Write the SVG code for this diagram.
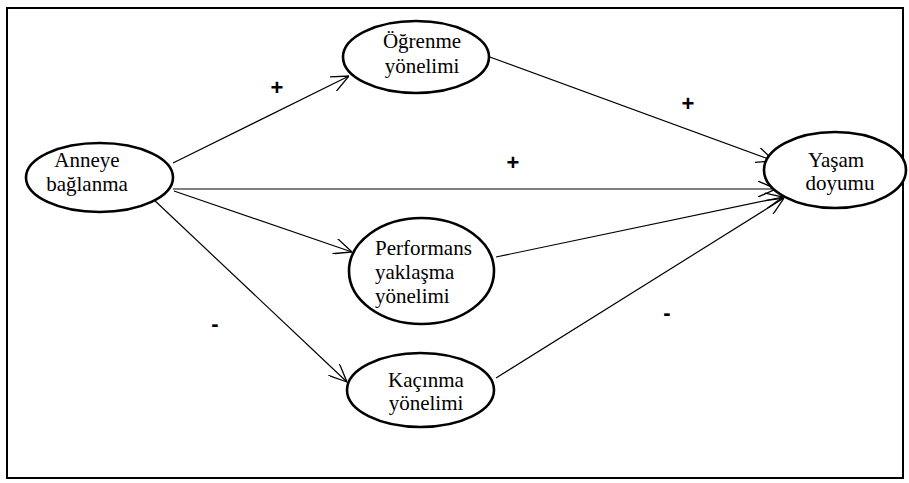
<svg xmlns="http://www.w3.org/2000/svg" width="909" height="483" viewBox="0 0 909 483">
<style>
.node ellipse { fill: #fff; stroke: #000; stroke-width: 2.6; }
.edge { stroke: #000; stroke-width: 1.2; fill: none; marker-end: url(#arr); }
</style>
<defs>
<marker id="arr" viewBox="0 0 18 16" refX="18" refY="8" markerWidth="18" markerHeight="16" markerUnits="userSpaceOnUse" orient="auto">
<path d="M0,0 L18,8 L0,16" fill="none" stroke="#000" stroke-width="1.3"/>
</marker>
</defs>
<rect x="7" y="8" width="896" height="470" fill="#fff" stroke="#000" stroke-width="2"/>
<g id="connectors">
<line class="edge" x1="173" y1="163" x2="349" y2="76"/>
<line class="edge" x1="487" y1="56" x2="774" y2="161"/>
<line class="edge" x1="173" y1="189" x2="776" y2="189"/>
<line class="edge" x1="174" y1="191" x2="352" y2="252"/>
<line class="edge" x1="496" y1="257" x2="783" y2="197"/>
<line class="edge" x1="152" y1="198" x2="347" y2="382"/>
<line class="edge" x1="496" y1="378" x2="784" y2="198"/>
</g>
<g id="labels" font-family="'Liberation Sans', Arial, sans-serif" font-size="22" font-weight="bold" text-anchor="middle" fill="#000">
<text x="277" y="95">+</text>
<text x="688" y="111">+</text>
<text x="513" y="170">+</text>
<text x="215" y="331">-</text>
<text x="667" y="320">-</text>
</g>
<g font-family="'Liberation Serif', 'Times New Roman', serif" font-size="21" fill="#000">
<g id="anneye" class="node">
<ellipse cx="99.5" cy="177.5" rx="73.5" ry="34.5"/>
<text x="87" y="167" text-anchor="middle">Anneye</text>
<text x="87" y="191" text-anchor="middle">bağlanma</text>
</g>
<g id="ogrenme" class="node">
<ellipse cx="416" cy="57" rx="73" ry="36"/>
<text x="422" y="48" text-anchor="middle">Öğrenme</text>
<text x="422" y="73" text-anchor="middle">yönelimi</text>
</g>
<g id="performans" class="node">
<ellipse cx="421.5" cy="271" rx="72.5" ry="53"/>
<text x="375" y="255">Performans</text>
<text x="375" y="279">yaklaşma</text>
<text x="375" y="303">yönelimi</text>
</g>
<g id="kacinma" class="node">
<ellipse cx="420.5" cy="390" rx="73.5" ry="37"/>
<text x="426" y="387" text-anchor="middle">Kaçınma</text>
<text x="426" y="410" text-anchor="middle">yönelimi</text>
</g>
<g id="yasam" class="node">
<ellipse cx="835" cy="170" rx="71" ry="38"/>
<text x="836" y="167" text-anchor="middle">Yaşam</text>
<text x="840" y="190" text-anchor="middle">doyumu</text>
</g>
</g>
</svg>
